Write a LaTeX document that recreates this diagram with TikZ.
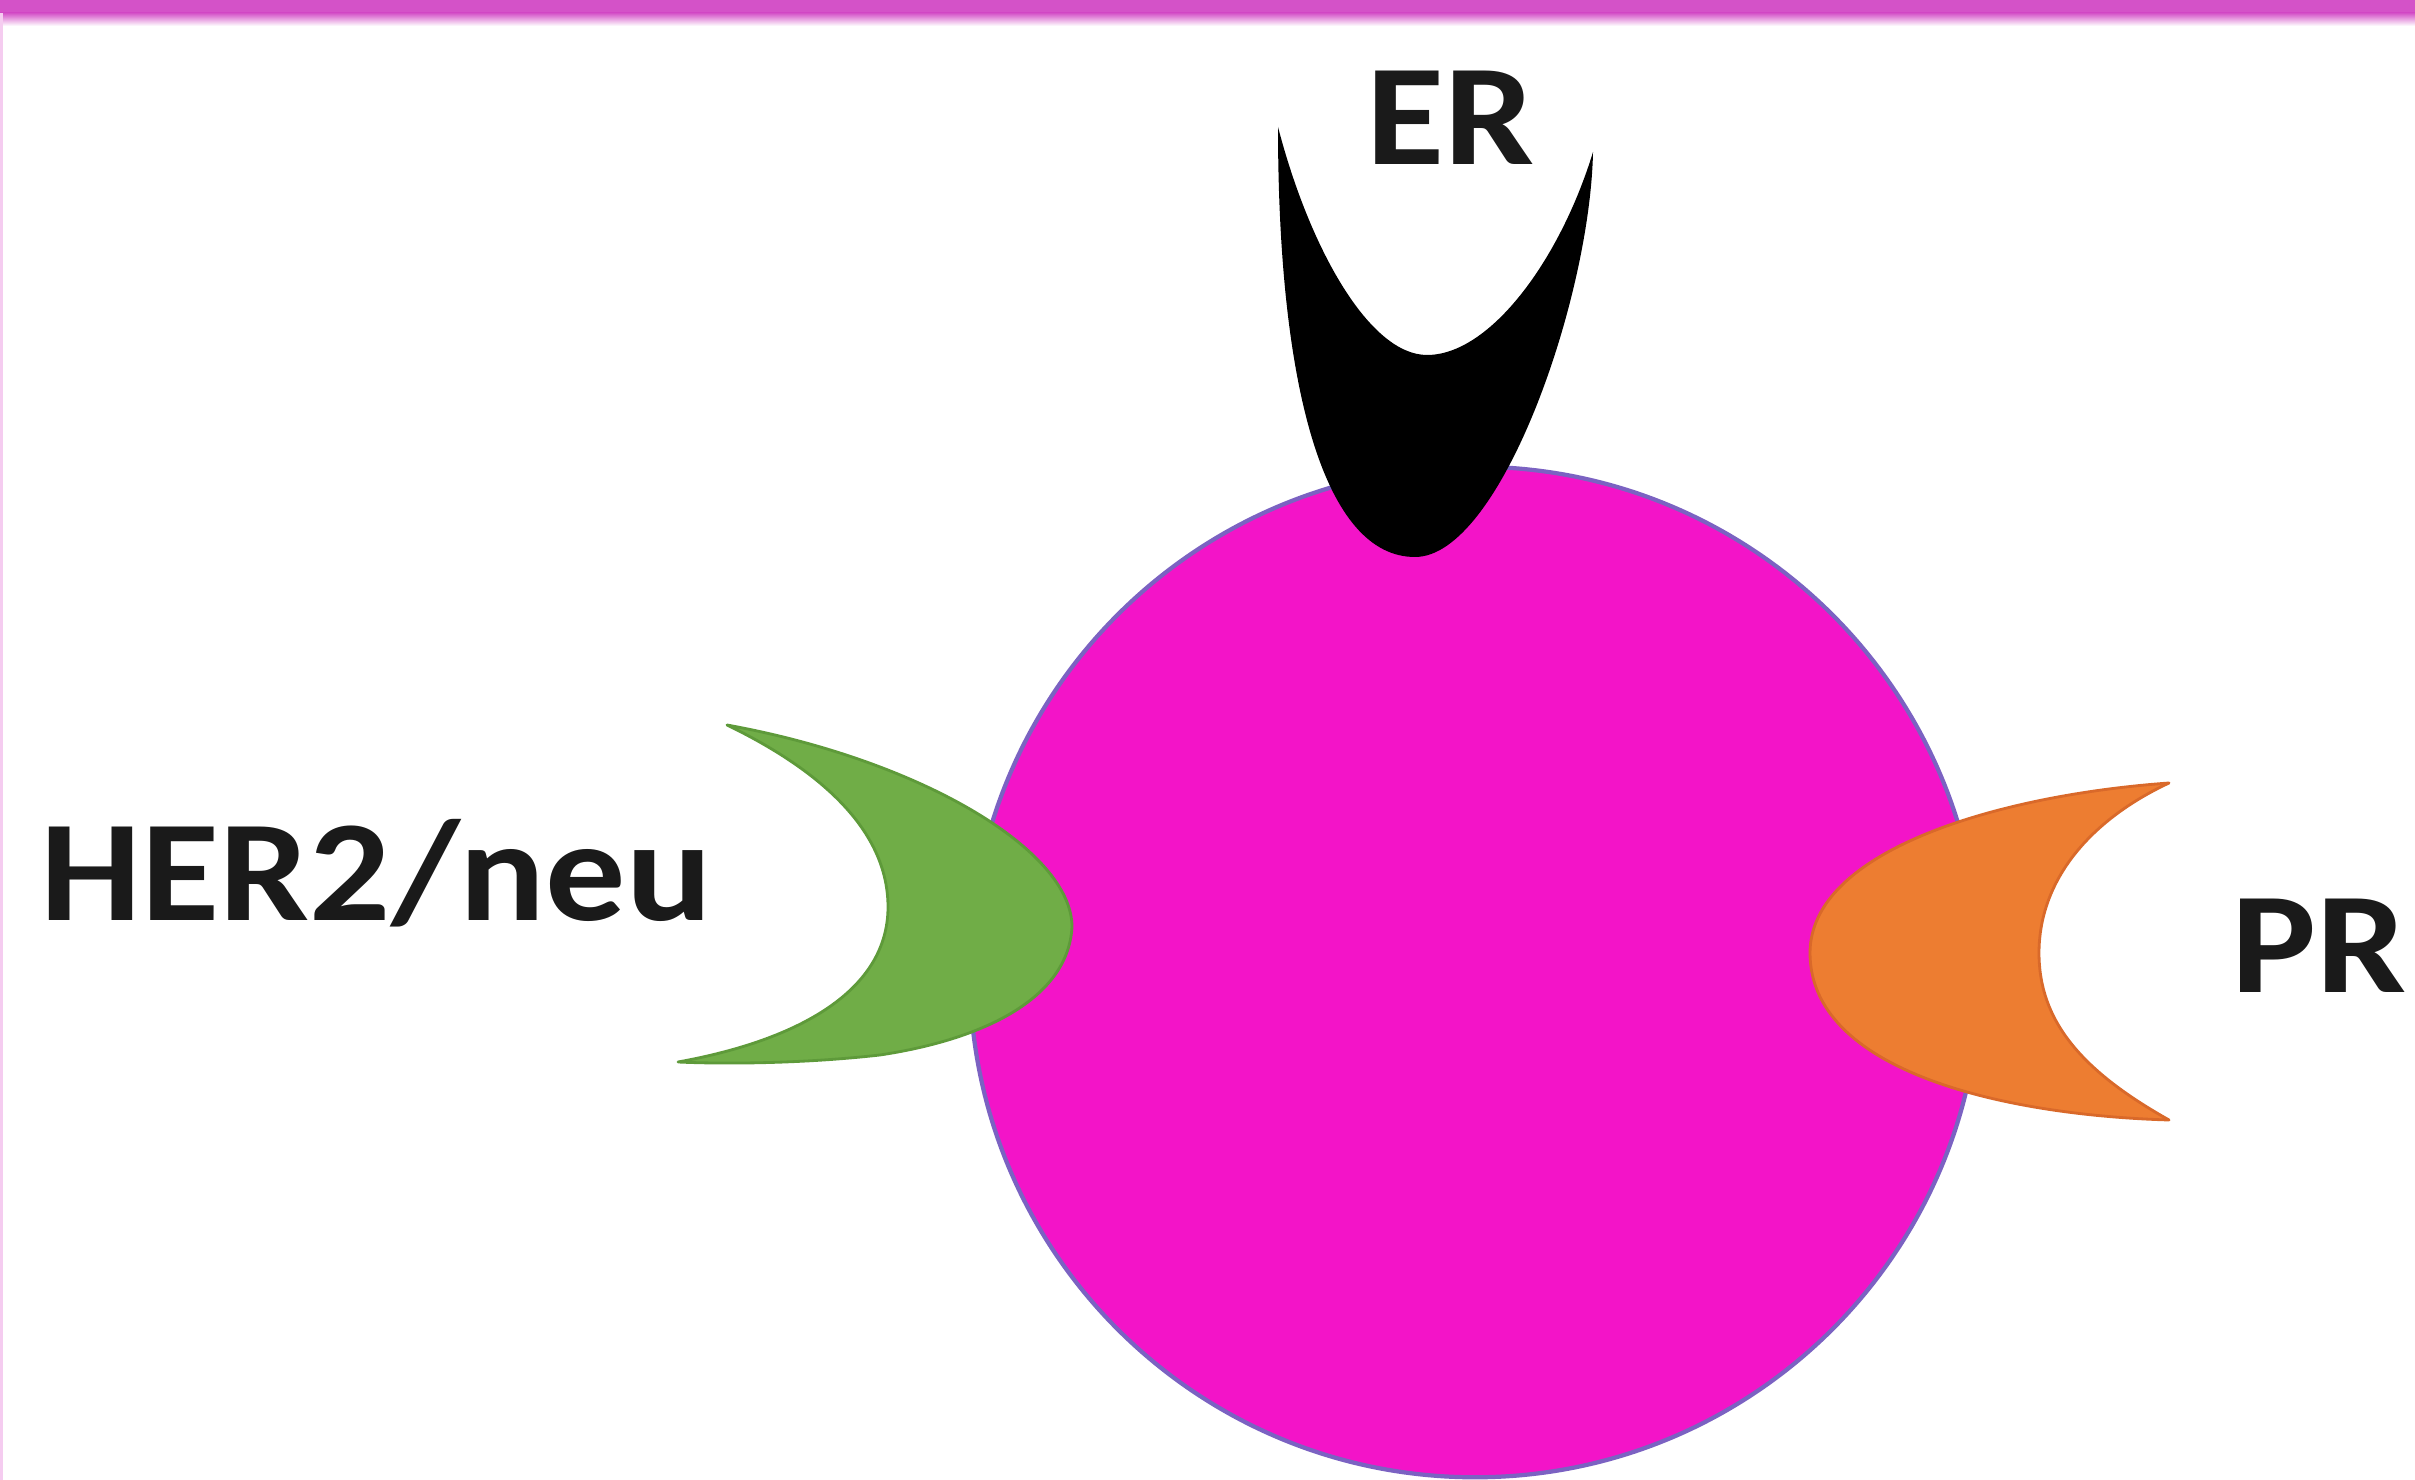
\documentclass[tikz,border=0pt]{standalone}
\usepackage{fontspec}
\setmainfont{Carlito}
\definecolor{barpink}{HTML}{D452C8}
\definecolor{edgepink}{HTML}{F5CCF0}
\definecolor{cellfill}{HTML}{F314C8}
\definecolor{celledge}{HTML}{7B62C2}
\definecolor{hergreen}{HTML}{70AD47}
\definecolor{heredge}{HTML}{5E9A3A}
\definecolor{prorange}{HTML}{ED7D31}
\definecolor{predge}{HTML}{D9692A}
\definecolor{labelink}{HTML}{1A1A1A}
\begin{document}
\begin{tikzpicture}[x=0.01cm,y=-0.01cm,
  tag/.style={font=\bfseries\fontsize{41}{41}\selectfont, text=labelink,
    inner sep=0pt, anchor=base west, xscale=1.11},
  cellbody/.style={circle, fill=cellfill, draw=celledge, line width=1.2pt,
    inner sep=0pt, minimum size=10.1cm},
  receptor/.style={line width=0.8pt, line join=round}]
  % page and frame
  \fill[white] (0,0) rectangle (2415,1480);
  \useasboundingbox (0,0) rectangle (2415,1480);
  \fill[barpink] (0,0) rectangle (2415,13);
  \shade[top color=barpink, bottom color=white] (0,13) rectangle (2415,26);
  \fill[edgepink] (0,13) rectangle (3,1480);

  % cell
  \node[cellbody] (cell) at (1475,972) {};

  % ER receptor (black cup on top)
  \fill[black] (1278,127)
    .. controls (1278,390) and (1325,557) .. (1415,557)
    .. controls (1500,557) and (1590,300) .. (1593,152)
    .. controls (1560,260) and (1490,355) .. (1427,355)
    .. controls (1370,355) and (1310,250) .. (1278,127) -- cycle;

  % HER2/neu receptor (green crescent, left)
  \filldraw[receptor, fill=hergreen, draw=heredge] (727,725)
    .. controls (920,760) and (1072,850) .. (1072,927)
    .. controls (1068,1000) and (980,1040) .. (880,1055)
    .. controls (800,1064) and (720,1064) .. (678,1062)
    .. controls (800,1040) and (888,990) .. (888,907)
    .. controls (888,830) and (820,770) .. (727,725) -- cycle;

  % PR receptor (orange crescent, right)
  \filldraw[receptor, fill=prorange, draw=predge] (2169,783)
    .. controls (2000,795) and (1810,850) .. (1810,953)
    .. controls (1810,1070) and (2000,1115) .. (2169,1120)
    .. controls (2080,1070) and (2039,1020) .. (2039,953)
    .. controls (2039,880) and (2090,820) .. (2169,783) -- cycle;

  % labels
  \node[tag] (er) at (1366,165) {ER};
  \node[tag] (her) at (40,921) {HER2/neu};
  \node[tag] (pr) at (2231,993) {PR};
\end{tikzpicture}
\end{document}
